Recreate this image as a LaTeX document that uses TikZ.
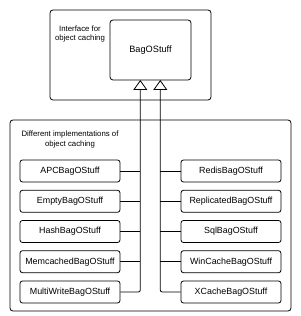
\documentclass[tikz,border=0pt]{standalone}
\usepackage{fontspec}
\setmainfont{Liberation Sans}
\usetikzlibrary{arrows.meta}
\begin{document}
\begin{tikzpicture}[x=1pt,y=1pt,
  frame/.style={draw, line width=0.8pt, rounded corners=3pt},
  implbox/.style={draw, line width=0.8pt, rounded corners=2.5pt, minimum width=100pt, minimum height=22pt, inner sep=0pt, font=\fontsize{8.9}{10}\selectfont},
  lbl/.style={align=center, inner sep=0pt, font=\fontsize{7.8}{9.5}\selectfont},
  conn/.style={line width=0.8pt},
  inh/.style={conn, rounded corners=2pt, -{Triangle[open, length=10pt, width=14pt, line width=0.8pt]}}
]
\useasboundingbox (0,0) rectangle (300,316);
% top frame
\draw[frame] (50,216) rectangle (211,306);
\node[draw, line width=0.8pt, rounded corners=3pt, minimum width=81pt, minimum height=60pt, inner sep=0pt, font=\fontsize{9.2}{11}\selectfont] (bag) at (150.5,266) {BagOStuff};
\node[lbl] (ilbl) at (80,282) {Interface for\\object caching};
% bottom frame
\draw[frame] (10,5) rectangle (291,196);
\node[lbl] (dlbl) at (70,176.5) {Different implementations of\\object caching};
% left boxes
\node[implbox] (apc) at (70,145) {APCBagOStuff};
\node[implbox] (empty) at (70,114.7) {EmptyBagOStuff};
\node[implbox] (hash) at (70,84.5) {HashBagOStuff};
\node[implbox] (memc) at (70,54.3) {MemcachedBagOStuff};
\node[implbox] (multi) at (70,24) {MultiWriteBagOStuff};
% right boxes
\node[implbox] (redis) at (231,145) {RedisBagOStuff};
\node[implbox] (repl) at (231,114.7) {ReplicatedBagOStuff};
\node[implbox] (sql) at (231,84.5) {SqlBagOStuff};
\node[implbox] (winc) at (231,54.3) {WinCacheBagOStuff};
\node[implbox] (xc) at (231,24) {XCacheBagOStuff};
% tips
\coordinate (tl) at (140.3,236);
\coordinate (tr) at (160.3,236);
\draw[inh] (multi.east) -| (tl);
\draw[inh] (xc.west) -| (tr);
\foreach \n in {apc,empty,hash,memc} \draw[conn] (\n.east) -- (\n.east -| tl);
\foreach \n in {redis,repl,sql,winc} \draw[conn] (\n.west) -- (\n.west -| tr);
\end{tikzpicture}
\end{document}
